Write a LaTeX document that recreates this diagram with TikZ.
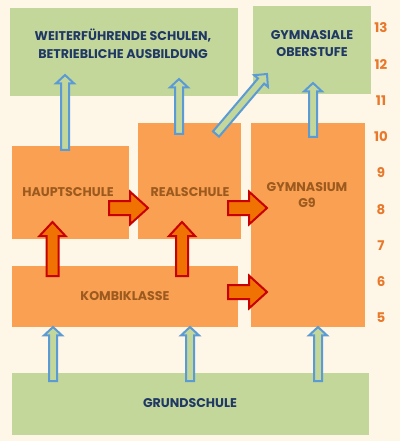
\documentclass[tikz,border=0pt]{standalone}
\usepackage{fontspec}
\setmainfont{Poppins}
\usetikzlibrary{calc}
\definecolor{paper}{HTML}{FEF6E7}
\definecolor{boxo}{HTML}{F9A052}
\definecolor{boxg}{HTML}{C4D79B}
\definecolor{navy}{HTML}{1F3864}
\definecolor{txto}{HTML}{9C5A1E}
\definecolor{grade}{HTML}{E8782A}
\definecolor{flowline}{HTML}{5B9BD5}
\definecolor{movefill}{HTML}{EF7203}
\definecolor{moveline}{HTML}{C80000}
\tikzset{
  box/.style={inner sep=0pt,outer sep=0pt},
  wh/.style 2 args={minimum width=#1*0.25mm,minimum height=#2*0.25mm},
  navytxt/.style={text=navy,align=center,font=\fontsize{9}{12.6}\selectfont\bfseries},
  orangetxt/.style={text=txto,align=center,font=\fontsize{9}{11.4}\selectfont\bfseries},
  flow/.style={draw=flowline,fill=boxg,line width=0.5mm},
  schoolmove/.style={draw=moveline,fill=movefill,line width=0.5mm}
}

% block arrow: style, shaft half width, head half width, head length, from, to
\newcommand\blockarr[6]{%
  \coordinate (ba-s) at (#5);
  \coordinate (ba-t) at (#6);
  \coordinate (ba-h) at ($(ba-t)!#4!(ba-s)$);
  \draw[#1] ($(ba-s)!#2!90:(ba-t)$) -- ($(ba-h)!#2!90:(ba-t)$) -- ($(ba-h)!#3!90:(ba-t)$)
    -- (ba-t) -- ($(ba-h)!#3!-90:(ba-t)$) -- ($(ba-h)!#2!-90:(ba-t)$) -- ($(ba-s)!#2!-90:(ba-t)$) -- cycle;
}

\begin{document}
\begin{tikzpicture}[x=0.25mm,y=-0.25mm]
  \fill[paper] (0,0) rectangle (400,441);
  \useasboundingbox (0,0) rectangle (400,441);

  % boxes
  \node[box,fill=boxg,wh={228}{88}] (weiter) at (124,52) {};
  \node[box,fill=boxg,wh={118}{88}] (ober) at (312,50) {};
  \node[box,fill=boxo,wh={117}{93}] (haupt) at (70.5,192.5) {};
  \node[box,fill=boxo,wh={103}{116}] (real) at (189.5,181) {};
  \node[box,fill=boxo,wh={114}{204}] (gym) at (308,225) {};
  \node[box,fill=boxo,wh={226}{61}] (kombi) at (125,296.5) {};
  \node[box,fill=boxg,wh={357}{62}] (grund) at (190.5,404) {};

  \node[navytxt] (weiter-t) at (123,44) {WEITERFÜHRENDE SCHULEN,\\BETRIEBLICHE AUSBILDUNG};
  \node[navytxt] (ober-t) at (312,43.5) {GYMNASIALE\\OBERSTUFE};
  \node[orangetxt] (haupt-t) at (68,192) {HAUPTSCHULE};
  \node[orangetxt] (real-t) at (190,192) {REALSCHULE};
  \node[orangetxt] (gym-t) at (307,195) {GYMNASIUM\\G9};
  \node[orangetxt] (kombi-t) at (125,296) {KOMBIKLASSE};
  \node[navytxt] (grund-t) at (190,403) {GRUNDSCHULE};

  % grades
  \foreach \g [count=\i from 0] in {13,...,5}
    \node[text=grade,font=\fontsize{9.5}{10}\selectfont\bfseries] (g\g) at (381,28+\i*36.25) {\g};

  % moves up
  \blockarr{flow}{1mm}{2.25mm}{2.1mm}{$(haupt.north)+(-5.5,4)$}{$(weiter.south)+(-59,-21)$}
  \blockarr{flow}{1mm}{2.25mm}{2.1mm}{$(real.north)+(-10.5,11)$}{$(weiter.south)+(55,-17)$}
  \blockarr{flow}{1mm}{2.25mm}{2.3mm}{$(real.north)+(26.5,11)$}{$(ober.south west)+(14,-20)$}
  \blockarr{flow}{1mm}{2.25mm}{2.1mm}{$(gym.north)+(5,14)$}{$(ober.south)+(1,-11)$}
  \foreach \dx/\tx in {-137.5/kombi.south,-0.5/kombi.south,127.5/gym.south}
    \blockarr{flow}{1mm}{2.25mm}{2.1mm}{$(grund.north)+(\dx,8)$}{ba-s |- \tx};

  % changes of school
  \blockarr{schoolmove}{1.75mm}{4.1mm}{4.5mm}{$(haupt.east)+(-20,15.5)$}{$(real.west)+(10,27)$}
  \blockarr{schoolmove}{1.75mm}{4.1mm}{4.5mm}{$(real.east)+(-13,27)$}{$(gym.west)+(16,-17)$}
  \blockarr{schoolmove}{1.75mm}{4.1mm}{4.5mm}{$(kombi.east)+(-10,-4.5)$}{$(gym.west)+(16,67)$}
  \blockarr{schoolmove}{1.5mm}{3.25mm}{3.5mm}{$(kombi.north)+(-72.5,10)$}{$(haupt.south)+(-18,-17)$}
  \blockarr{schoolmove}{1.5mm}{3.25mm}{3.5mm}{$(kombi.north)+(57,10)$}{$(real.south)+(-7.5,-17)$}
\end{tikzpicture}
\end{document}
